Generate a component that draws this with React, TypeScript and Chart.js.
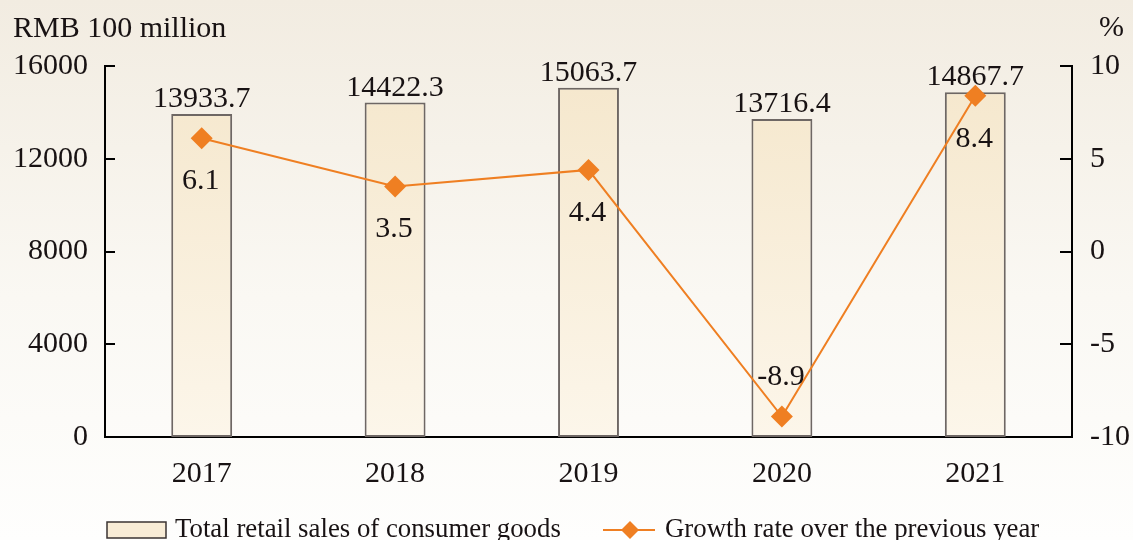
import React, { useEffect, useRef } from 'react';
import { Chart, registerables } from 'chart.js';

Chart.register(...registerables);

const years = ['2017', '2018', '2019', '2020', '2021'];
const salesValues = [13933.7, 14422.3, 15063.7, 13716.4, 14867.7];
const growthValues = [6.1, 3.5, 4.4, -8.9, 8.4];
const leftTicks = [0, 4000, 8000, 12000, 16000];
const rightTicks = [-10, -5, 0, 5, 10];
const salesLabel = 'Total retail sales of consumer goods';
const growthLabel = 'Growth rate over the previous year';
const leftUnit = 'RMB 100 million';
const rightUnit = '%';

const FONT = '"Liberation Serif", "Times New Roman", serif';
const TEXT = '#181213';
const ORANGE = '#ef7f22';
const BAR_BORDER = '#6e6764';

function barFill(chart: any) {
  const area = chart.chartArea;
  if (!area) return '#f8eedb';
  const g = chart.ctx.createLinearGradient(0, area.top, 0, area.bottom);
  g.addColorStop(0, '#f5e7cc');
  g.addColorStop(1, '#fcf6ea');
  return g;
}

function diamond(ctx: CanvasRenderingContext2D, x: number, y: number, r: number) {
  ctx.beginPath();
  ctx.moveTo(x, y - r);
  ctx.lineTo(x + r, y);
  ctx.lineTo(x, y + r);
  ctx.lineTo(x - r, y);
  ctx.closePath();
  ctx.fill();
}

const decorPlugin = {
  id: 'decor',
  beforeDraw(chart: any) {
    const { ctx, width, height } = chart;
    ctx.save();
    const g = ctx.createLinearGradient(0, 0, 0, height);
    g.addColorStop(0, '#f2ece1');
    g.addColorStop(0.55, '#faf8f3');
    g.addColorStop(1, '#fefefd');
    ctx.fillStyle = g;
    ctx.fillRect(0, 0, width, height);
    ctx.restore();
  },
  afterDraw(chart: any) {
    const { ctx, chartArea } = chart;
    const yL = chart.scales.y;
    const yR = chart.scales.y1;
    ctx.save();
    // inward ticks
    ctx.strokeStyle = '#000';
    ctx.lineWidth = 2;
    leftTicks.forEach((v) => {
      const y = Math.round(yL.getPixelForValue(v));
      ctx.beginPath();
      ctx.moveTo(chartArea.left, y);
      ctx.lineTo(chartArea.left + 10, y);
      ctx.stroke();
    });
    rightTicks.forEach((v) => {
      const y = Math.round(yR.getPixelForValue(v));
      ctx.beginPath();
      ctx.moveTo(chartArea.right - 12, y);
      ctx.lineTo(chartArea.right, y);
      ctx.stroke();
    });

    // unit labels
    ctx.fillStyle = TEXT;
    ctx.font = `30px ${FONT}`;
    ctx.textBaseline = 'alphabetic';
    ctx.textAlign = 'left';
    ctx.fillText(leftUnit, 13, 37);
    ctx.fillText(rightUnit, 1099, 36);

    // bar value labels
    ctx.font = `30px ${FONT}`;
    ctx.textAlign = 'center';
    const barMeta = chart.getDatasetMeta(0);
    barMeta.data.forEach((el: any, i: number) => {
      ctx.fillText(salesValues[i].toFixed(1), el.x, el.y - 7);
    });

    // line value labels
    ctx.textBaseline = 'middle';
    const lineMeta = chart.getDatasetMeta(1);
    lineMeta.data.forEach((el: any, i: number) => {
      const v = growthValues[i];
      const y = v < 0 ? el.y - 39 : el.y + 43;
      ctx.fillText(v.toFixed(1), el.x - 1, y);
    });

    // legend
    ctx.textBaseline = 'alphabetic';
    ctx.textAlign = 'left';
    ctx.font = `26.8px ${FONT}`;
    ctx.fillStyle = '#f8ecd6';
    ctx.fillRect(107, 522, 59, 16);
    ctx.strokeStyle = '#3a3332';
    ctx.lineWidth = 1.5;
    ctx.strokeRect(107, 522, 59, 16);
    ctx.fillStyle = TEXT;
    ctx.fillText(salesLabel, 175, 537);

    ctx.strokeStyle = ORANGE;
    ctx.lineWidth = 2;
    ctx.beginPath();
    ctx.moveTo(603, 530);
    ctx.lineTo(655, 530);
    ctx.stroke();
    ctx.fillStyle = ORANGE;
    diamond(ctx, 630, 530, 9);
    ctx.fillStyle = TEXT;
    ctx.fillText(growthLabel, 665, 537);
    ctx.restore();
  },
};

export default function App() {
  const ref = useRef<HTMLCanvasElement | null>(null);

  useEffect(() => {
    if (!ref.current) return;
    const chart = new Chart(ref.current, {
      data: {
        labels: years,
        datasets: [
          {
            type: 'bar',
            label: salesLabel,
            data: salesValues,
            yAxisID: 'y',
            backgroundColor: (c: any) => barFill(c.chart),
            borderColor: BAR_BORDER,
            borderWidth: 2,
            borderSkipped: false,
            barPercentage: 0.315,
            categoryPercentage: 1,
            order: 2,
          },
          {
            type: 'line',
            label: growthLabel,
            data: growthValues,
            yAxisID: 'y1',
            borderColor: ORANGE,
            borderWidth: 2,
            pointStyle: 'rectRot',
            pointRadius: 11,
            pointBackgroundColor: ORANGE,
            pointBorderColor: ORANGE,
            pointBorderWidth: 0,
            tension: 0,
            order: 1,
          },
        ],
      } as any,
      options: {
        responsive: false,
        animation: false,
        layout: { padding: { top: 66, left: 0, right: 0, bottom: 0 } },
        plugins: {
          legend: { display: false },
          tooltip: { enabled: false },
        },
        scales: {
          x: {
            grid: { display: false, drawTicks: false },
            border: { display: true, color: '#000', width: 2 },
            ticks: {
              color: TEXT,
              font: { family: FONT, size: 30 },
              padding: 19,
            },
            afterFit: (s: any) => {
              s.height = 103;
            },
          },
          y: {
            position: 'left',
            min: 0,
            max: 16000,
            afterBuildTicks: (s: any) => {
              s.ticks = leftTicks.map((v) => ({ value: v }));
            },
            grid: { display: false, drawTicks: false },
            border: { display: true, color: '#000', width: 2 },
            ticks: {
              color: TEXT,
              font: { family: FONT, size: 30 },
              padding: 17,
              callback: (v: any) => String(v),
            },
            afterFit: (s: any) => {
              s.width = 105;
            },
          },
          y1: {
            position: 'right',
            min: -10,
            max: 10,
            afterBuildTicks: (s: any) => {
              s.ticks = rightTicks.map((v) => ({ value: v }));
            },
            grid: { display: false, drawTicks: false },
            border: { display: true, color: '#000', width: 2 },
            ticks: {
              color: TEXT,
              font: { family: FONT, size: 30 },
              padding: 18,
              callback: (v: any) => String(v),
            },
            afterFit: (s: any) => {
              s.width = 61;
            },
          },
        },
      } as any,
      plugins: [decorPlugin],
    });
    return () => chart.destroy();
  }, []);

  return (
    <div style={{ position: 'absolute', left: 0, top: 0, width: 1133, height: 540 }}>
      <canvas ref={ref} width={1133} height={540} style={{ display: 'block' }} />
    </div>
  );
}
